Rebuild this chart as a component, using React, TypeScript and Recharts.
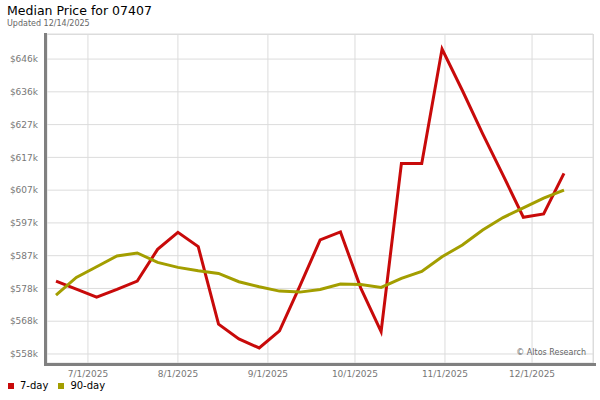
import React from 'react';
import { LineChart, Line, XAxis, YAxis, CartesianGrid } from 'recharts';

// weekly observations
const dates = [
  '2025-06-20', '2025-06-27', '2025-07-04', '2025-07-11', '2025-07-18', '2025-07-25',
  '2025-08-01', '2025-08-08', '2025-08-15', '2025-08-22', '2025-08-29', '2025-09-05',
  '2025-09-12', '2025-09-19', '2025-09-26', '2025-10-03', '2025-10-10', '2025-10-17',
  '2025-10-24', '2025-10-31', '2025-11-07', '2025-11-14', '2025-11-21', '2025-11-28',
  '2025-12-05', '2025-12-12',
];

const sevenDay = [
  579800, 577400, 575000, 577300, 579800, 589300, 594400, 590100, 566900, 562500,
  559800, 564900, 578300, 592100, 594500, 577700, 564700, 615000, 615000, 649200,
  636800, 623800, 611500, 598900, 599900, 612000,
];

const ninetyDay = [
  575600, 580900, 584100, 587300, 588200, 585400, 583900, 582900, 582100, 579600,
  578100, 576800, 576500, 577300, 578900, 578800, 577900, 580600, 582700, 587100,
  590600, 595100, 598800, 601700, 604600, 607000,
];

const xTickDates = ['2025-07-01', '2025-08-01', '2025-09-01', '2025-10-01', '2025-11-01', '2025-12-01'];
const yTicks = [558000, 567800, 577600, 587400, 597200, 607000, 616800, 626600, 636400, 646200];

const series = [
  { key: 'd7', name: '7-day', color: '#c80a0a' },
  { key: 'd90', name: '90-day', color: '#a39e00' },
];

const DAY = 86400000;
const start = Date.parse(dates[0]);
const toDay = (s: string) => Math.round((Date.parse(s) - start) / DAY);

const rows = dates.map((d, i) => ({ day: toDay(d), d7: sevenDay[i], d90: ninetyDay[i] }));
const xTicks = xTickDates.map(toDay);

const fmtDate = (v: number) => {
  const dt = new Date(start + v * DAY);
  return `${dt.getUTCMonth() + 1}/${dt.getUTCDate()}/${dt.getUTCFullYear()}`;
};

const font = '"DejaVu Sans", Verdana, sans-serif';

export default function App() {
  return (
    <div style={{ position: 'fixed', left: 0, top: 0, width: 600, height: 400, background: '#fff', fontFamily: font }}>
      <div style={{ position: 'absolute', left: 7, top: 3, fontSize: 12.5, color: '#000', whiteSpace: 'nowrap' }}>
        Median Price for 07407
      </div>
      <div style={{ position: 'absolute', left: 7, top: 19, fontSize: 8, color: '#666', whiteSpace: 'nowrap' }}>
        Updated 12/14/2025
      </div>

      <LineChart width={600} height={400} data={rows} margin={{ top: 34, right: 7, bottom: 17, left: 7 }}>
        <CartesianGrid stroke="#dcdcdc" strokeWidth={1} />
        <XAxis
          dataKey="day"
          type="number"
          domain={[-3.1, 185]}
          ticks={xTicks}
          tickFormatter={fmtDate}
          allowDataOverflow
          axisLine={false}
          tickLine={false}
          tickSize={0}
          tickMargin={8}
          height={20}
          tick={{ fill: '#777', fontSize: 9, fontFamily: font }}
        />
        <YAxis
          type="number"
          domain={[555300, 653700]}
          ticks={yTicks}
          allowDataOverflow
          tickFormatter={(v: number) => `$${Math.round(v / 1000)}k`}
          axisLine={false}
          tickLine={false}
          tickSize={0}
          tickMargin={9}
          width={40}
          tick={{ fill: '#777', fontSize: 9, fontFamily: font }}
        />
        {series.map((s) => (
          <Line
            key={s.key}
            dataKey={s.key}
            name={s.name}
            type="linear"
            stroke={s.color}
            strokeWidth={3}
            dot={false}
            activeDot={false}
            isAnimationActive={false}
          />
        ))}
      </LineChart>

      {/* frame: light top/right border, heavy left/bottom axis */}
      <div style={{ position: 'absolute', left: 47, top: 34, width: 546, height: 1, background: '#dcdcdc' }} />
      <div style={{ position: 'absolute', left: 593, top: 34, width: 1, height: 329, background: '#dcdcdc' }} />
      <div style={{ position: 'absolute', left: 44, top: 33, width: 3, height: 333, background: '#808080' }} />
      <div style={{ position: 'absolute', left: 44, top: 363, width: 552, height: 3, background: '#808080' }} />

      <div style={{ position: 'absolute', left: 486, width: 100, top: 348, fontSize: 8, color: '#666', textAlign: 'right', whiteSpace: 'nowrap' }}>
        © Altos Research
      </div>

      <div style={{ position: 'absolute', left: 8, top: 380, display: 'flex', alignItems: 'center', fontSize: 10, color: '#000' }}>
        {series.map((s) => (
          <div key={s.key} style={{ display: 'flex', alignItems: 'center', marginRight: 10 }}>
            <span style={{ display: 'inline-block', width: 6, height: 6, background: s.color, marginRight: 6 }} />
            <span>{s.name}</span>
          </div>
        ))}
      </div>
    </div>
  );
}
